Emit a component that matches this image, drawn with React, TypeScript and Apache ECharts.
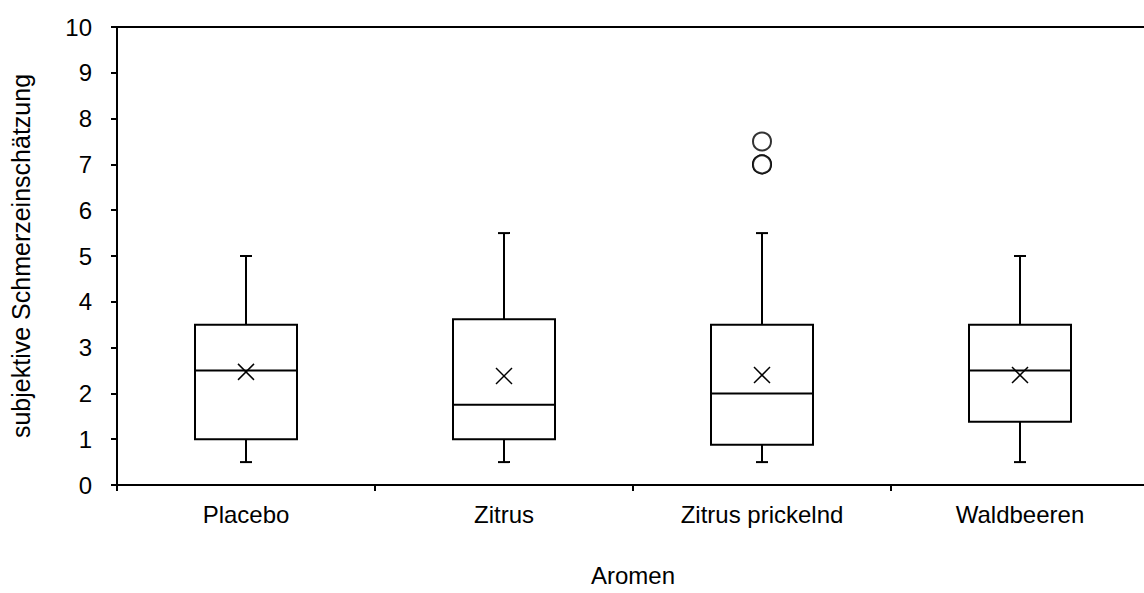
import React, { useEffect, useRef } from "react";
import * as echarts from "echarts";

const categories = ["Placebo", "Zitrus", "Zitrus prickelnd", "Waldbeeren"];
// [whiskerLow, Q1, median, Q3, whiskerHigh]
const boxStats = [
  [0.5, 1.0, 2.5, 3.5, 5.0],
  [0.5, 1.0, 1.75, 3.62, 5.5],
  [0.5, 0.88, 2.0, 3.5, 5.5],
  [0.5, 1.38, 2.5, 3.5, 5.0],
];
const means = [2.47, 2.38, 2.4, 2.4];
const outliers = [
  [2, 7.0],
  [2, 7.0],
  [2, 7.5],
];
const yTicks = [0, 1, 2, 3, 4, 5, 6, 7, 8, 9, 10];

const FONT = "Liberation Sans, Arial, sans-serif";

export default function App() {
  const ref = useRef<HTMLDivElement>(null);
  useEffect(() => {
    if (!ref.current) return;
    const chart = echarts.init(ref.current, undefined, { renderer: "svg" });
    const boxData = boxStats.map((s, i) => [i, ...s, means[i]]);
    chart.setOption({
      animation: false,
      backgroundColor: "#fff",
      grid: {
        left: 117,
        right: 11,
        top: 27,
        bottom: 108,
        show: true,
        borderColor: "#000",
        borderWidth: 2,
      },
      xAxis: {
        type: "category",
        data: categories,
        boundaryGap: true,
        name: "Aromen",
        nameLocation: "middle",
        nameGap: 78,
        nameTextStyle: { fontFamily: FONT, fontSize: 24, color: "#000" },
        axisLine: { lineStyle: { color: "#000", width: 2 } },
        axisTick: { show: true, length: 6, lineStyle: { color: "#000", width: 2 } },
        axisLabel: { fontFamily: FONT, fontSize: 24, color: "#000", margin: 17 },
        splitLine: { show: false },
      },
      yAxis: {
        type: "value",
        min: yTicks[0],
        max: yTicks[yTicks.length - 1],
        interval: 1,
        name: "subjektive Schmerzeinschätzung",
        nameLocation: "middle",
        nameGap: 84,
        nameRotate: 90,
        nameTextStyle: { fontFamily: FONT, fontSize: 25, color: "#000" },
        axisLine: { show: true, lineStyle: { color: "#000", width: 2 } },
        axisTick: { show: true, length: 6, lineStyle: { color: "#000", width: 2 } },
        axisLabel: { fontFamily: FONT, fontSize: 24, color: "#000", margin: 25 },
        splitLine: { show: false },
      },
      series: [
        {
          type: "custom",
          data: boxData,
          encode: { x: 0, y: [1, 2, 3, 4, 5, 6] },
          renderItem: (params: any, api: any) => {
            const idx = api.value(0);
            const lo = api.coord([idx, api.value(1)]);
            const q1 = api.coord([idx, api.value(2)]);
            const med = api.coord([idx, api.value(3)]);
            const q3 = api.coord([idx, api.value(4)]);
            const hi = api.coord([idx, api.value(5)]);
            const mn = api.coord([idx, api.value(6)]);
            const cx = lo[0];
            const half = 51;
            const cap = 6;
            const xs = 8;
            const ls = { stroke: "#000", lineWidth: 2, fill: "none" };
            const ls1 = { stroke: "#000", lineWidth: 1.5, fill: "none" };
            return {
              type: "group",
              children: [
                { type: "line", shape: { x1: cx, y1: lo[1], x2: cx, y2: q1[1] }, style: ls },
                { type: "line", shape: { x1: cx, y1: q3[1], x2: cx, y2: hi[1] }, style: ls },
                { type: "line", shape: { x1: cx - cap, y1: lo[1], x2: cx + cap, y2: lo[1] }, style: ls },
                { type: "line", shape: { x1: cx - cap, y1: hi[1], x2: cx + cap, y2: hi[1] }, style: ls },
                {
                  type: "rect",
                  shape: { x: cx - half, y: q3[1], width: half * 2, height: q1[1] - q3[1] },
                  style: ls,
                },
                { type: "line", shape: { x1: cx - half, y1: med[1], x2: cx + half, y2: med[1] }, style: ls },
                { type: "line", shape: { x1: cx - xs, y1: mn[1] - xs, x2: cx + xs, y2: mn[1] + xs }, style: ls1 },
                { type: "line", shape: { x1: cx - xs, y1: mn[1] + xs, x2: cx + xs, y2: mn[1] - xs }, style: ls1 },
              ],
            };
          },
        },
        {
          type: "scatter",
          data: outliers,
          symbol: "circle",
          symbolSize: 18,
          itemStyle: { color: "#fff", borderColor: "#000", borderWidth: 2 },
        },
      ],
    });
    return () => chart.dispose();
  }, []);
  return (
    <div
      style={{ position: "fixed", left: 0, top: 0, width: 1144, height: 593, overflow: "hidden", background: "#fff" }}
    >
      <div ref={ref} style={{ width: 1160, height: 593 }} />
    </div>
  );
}
